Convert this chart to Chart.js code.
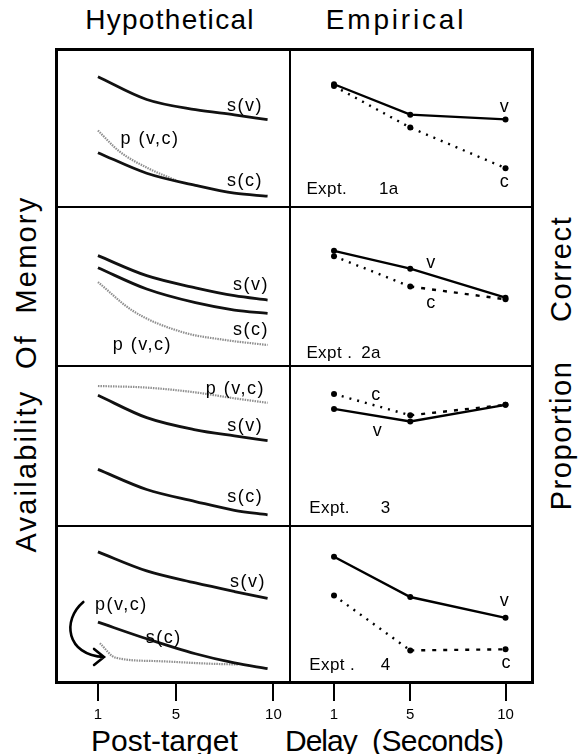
<!DOCTYPE html>
<html>
<head>
<meta charset="utf-8">
<script src="https://cdn.jsdelivr.net/npm/chart.js@4.4.1/dist/chart.umd.min.js"></script>
<style>
  html, body { margin: 0; padding: 0; background: #fff; }
  #fig { position: relative; width: 583px; height: 754px; overflow: hidden;
         font-family: "Liberation Sans", Arial, Helvetica, sans-serif; color: #000; }
  .cell { position: absolute; }
  .txt { position: absolute; white-space: pre; line-height: 1; }
  .rule { position: absolute; background: #000; }
</style>
</head>
<body>
<div id="fig">
  <div class="txt" style="left:170px;top:20px;font-size:28px;letter-spacing:1.3px;transform:translate(-50%,-50%)">Hypothetical</div>
  <div class="txt" style="left:396px;top:20px;font-size:28px;letter-spacing:2.8px;transform:translate(-50%,-50%)">Empirical</div>
  <div class="txt" style="left:26px;top:374px;font-size:29px;letter-spacing:2.2px;transform:translate(-50%,-50%) rotate(-90deg)">Availability  Of  Memory</div>
  <div class="txt" style="left:561px;top:363px;font-size:29px;letter-spacing:1.6px;transform:translate(-50%,-50%) rotate(-90deg)">Proportion    Correct</div>
  <div class="txt" style="left:91px;top:726px;font-size:30px;">Post-target</div>
  <div class="txt" style="left:285px;top:726px;font-size:30px;letter-spacing:-1px;">Delay</div>
  <div class="txt" style="left:372px;top:726px;font-size:30px;letter-spacing:-0.6px;">(Seconds)</div>

  <div class="cell" style="left:57px;top:50px"><canvas id="h1" width="233" height="157"></canvas></div>
  <div class="cell" style="left:57px;top:207px"><canvas id="h2" width="233" height="159"></canvas></div>
  <div class="cell" style="left:57px;top:366px"><canvas id="h3" width="233" height="160"></canvas></div>
  <div class="cell" style="left:57px;top:526px"><canvas id="h4" width="233" height="206"></canvas></div>
  <div class="cell" style="left:290px;top:50px"><canvas id="e1" width="242" height="157"></canvas></div>
  <div class="cell" style="left:290px;top:207px"><canvas id="e2" width="242" height="159"></canvas></div>
  <div class="cell" style="left:290px;top:366px"><canvas id="e3" width="242" height="160"></canvas></div>
  <div class="cell" style="left:290px;top:526px"><canvas id="e4" width="242" height="206"></canvas></div>

  <!-- frame -->
  <div class="rule" style="left:55px;top:48px;width:479px;height:3px"></div>
  <div class="rule" style="left:55px;top:681px;width:479px;height:3px"></div>
  <div class="rule" style="left:55px;top:48px;width:3px;height:636px"></div>
  <div class="rule" style="left:531px;top:48px;width:3px;height:636px"></div>
  <div class="rule" style="left:289px;top:48px;width:2px;height:636px"></div>
  <div class="rule" style="left:55px;top:206px;width:479px;height:2px"></div>
  <div class="rule" style="left:55px;top:365px;width:479px;height:2px"></div>
  <div class="rule" style="left:55px;top:525px;width:479px;height:2px"></div>
</div>

<script>
const curveX = [1, 3.5, 6, 8, 9.7];
// delays tested in the experiments
const delays = [1, 5, 10];
const tickVals = [1, 5, 10];

// hypothetical availability, rows 1-4 (0 = panel floor, 100 = panel top)
const h1sv = [83, 68.5, 62, 58.7, 55.6];
const h1sc = [34.6, 21.5, 13.8, 8.8, 6.9];
const h1pX = [1, 2.1, 3.6, 5];
const h1p = [48.7, 35.4, 24.5, 17];

const h2sv = [69.4, 56.8, 49.2, 44.2, 41.5];
const h2sc = [61.8, 48.4, 39.8, 35.2, 33.1];
const h2pX = [1, 2.8, 5.3, 7.5, 9.7];
const h2p = [52.8, 34.6, 21.4, 16.4, 13.2];

const h3sv = [81.7, 67.7, 60.1, 56.3, 53.4];
const h3sc = [35.4, 22.8, 15.3, 9.8, 7];
const h3pX = [1, 3.5, 6, 8, 9.7];
const h3p = [87.5, 86.5, 83.5, 79.8, 77];

const h4sv = [83.4, 71.2, 63.5, 58, 53.6];
const h4sc = [38.4, 27.7, 18.1, 12.2, 8.6];
const h4pX = [1.1, 1.9, 4, 6.6, 8.2];
const h4p = [24.8, 15.6, 13.4, 11.8, 11.2];

// empirical proportion correct (v = verbal, c = conceptual)
const e1v = [79.7, 59.3, 56.1];
const e1c = [78.5, 50.6, 23.4];
const e2v = [73.6, 61.8, 42.6];
const e2c = [70.1, 50.0, 41.5];
const e3v = [74.4, 66.1, 77.1];
const e3c = [84.2, 70.2, 77.1];
const e4v = [82.4, 55.9, 42.2];
const e4c = [56.9, 20.8, 21.5];

const FONT = '"Liberation Sans", Arial, Helvetica, sans-serif';

const pts = (xs, ys) => xs.map((x, i) => ({ x: x, y: ys[i] }));

const curve = (xs, ys) => ({
  data: pts(xs, ys),
  borderColor: "#111",
  borderWidth: 2.8,
  pointRadius: 0,
  cubicInterpolationMode: "monotone",
  fill: false,
});

const grayCurve = (xs, ys) => ({
  data: pts(xs, ys),
  borderColor: "#8f8f8f",
  borderWidth: 2.2,
  borderDash: [1.5, 1],
  pointRadius: 0,
  cubicInterpolationMode: "monotone",
  fill: false,
});

// style: 0 solid, 1 dotted, 2 dotted then dashed after the 5 s point
const empLine = (ys, style) => ({
  data: pts(delays, ys),
  borderColor: "#000",
  borderWidth: 2.4,
  borderDash: style ? [2, 6] : [],
  segment: style === 2
    ? { borderDash: (c) => (c.p0DataIndex === 1 ? [4, 7] : undefined) }
    : {},
  pointRadius: 3,
  pointBackgroundColor: "#000",
  pointBorderWidth: 0,
  tension: 0,
  fill: false,
});

// text labels drawn at data positions: [text, x, y, align, size, spacing]
function labelPlugin(items, arrow) {
  return {
    id: "labels",
    afterDatasetsDraw(chart) {
      const { ctx, scales } = chart;
      const X = (v) => scales.x.getPixelForValue(v);
      const Y = (v) => scales.y.getPixelForValue(v);
      ctx.save();
      ctx.fillStyle = "#000";
      ctx.textBaseline = "middle";
      items.forEach((it) => {
        ctx.font = (it[4] || 18) + "px " + FONT;
        ctx.textAlign = it[3] || "center";
        ctx.letterSpacing = (it[5] === undefined ? 1.5 : it[5]) + "px";
        ctx.fillText(it[0], X(it[1]), Y(it[2]));
      });
      if (arrow) {
        ctx.strokeStyle = "#000";
        ctx.lineWidth = 2.6;
        ctx.lineCap = "round";
        ctx.beginPath();
        ctx.moveTo(X(arrow[0][0]), Y(arrow[0][1]));
        ctx.bezierCurveTo(
          X(arrow[1][0]), Y(arrow[1][1]),
          X(arrow[2][0]), Y(arrow[2][1]),
          X(arrow[3][0]), Y(arrow[3][1])
        );
        ctx.moveTo(X(arrow[4][0]), Y(arrow[4][1]));
        ctx.lineTo(X(arrow[3][0]), Y(arrow[3][1]));
        ctx.lineTo(X(arrow[5][0]), Y(arrow[5][1]));
        ctx.stroke();
      }
      ctx.restore();
    },
  };
}

function panel(id, xMax, datasets, items, bottom, arrow) {
  const xScale = {
    type: "linear",
    min: -1.1,
    max: xMax,
    display: !!bottom,
    border: { display: false },
    grid: {
      drawOnChartArea: false,
      drawTicks: true,
      tickLength: 19,
      color: "#000",
      lineWidth: 2,
    },
    ticks: {
      color: "#000",
      font: { size: 15, family: FONT },
      padding: 5,
      autoSkip: false,
      maxRotation: 0,
    },
    afterBuildTicks: (s) => {
      s.ticks = tickVals.map((v) => ({ value: v }));
    },
  };
  // only the bottom row carries the delay axis
  if (bottom) xScale.afterFit = (s) => { s.height = 50; };

  new Chart(document.getElementById(id), {
    type: "line",
    data: { datasets: datasets },
    options: {
      responsive: false,
      animation: false,
      events: [],
      layout: { padding: 0 },
      plugins: { legend: { display: false }, tooltip: { enabled: false } },
      scales: {
        x: xScale,
        y: { min: 0, max: 100, display: false },
      },
    },
    plugins: [labelPlugin(items, arrow)],
  });
}

const LX = 10.85; // right end of hypothetical panels
const RX = 11.18; // right end of empirical panels

// ── Hypothetical ──
panel("h1", LX, [curve(curveX, h1sv), curve(curveX, h1sc), grayCurve(h1pX, h1p)],
  [["s(v)", 8.54, 64.6], ["p (v,c)", 3.67, 43], ["s(c)", 8.54, 16.5]]);
panel("h2", LX, [curve(curveX, h2sv), curve(curveX, h2sc), grayCurve(h2pX, h2p)],
  [["s(v)", 8.85, 51], ["s(c)", 8.85, 22.6], ["p (v,c)", 3.28, 13.5]]);
panel("h3", LX, [curve(curveX, h3sv), curve(curveX, h3sc), grayCurve(h3pX, h3p)],
  [["p (v,c)", 8.05, 85.6], ["s(v)", 8.56, 62.5], ["s(c)", 8.56, 18.1]]);
panel("h4", LX, [curve(curveX, h4sv), curve(curveX, h4sc), grayCurve(h4pX, h4p)],
  [["s(v)", 8.7, 64], ["p(v,c)", 2.2, 49.5], ["s(c)", 4.38, 28]],
  true,
  [[0.25, 51.3], [-0.85, 39.7], [-0.64, 17.3], [1.31, 16.0], [0.8, 21.2], [0.8, 10.9]]);

// ── Empirical ──
panel("e1", RX, [empLine(e1v, 0), empLine(e1c, 1)],
  [["v", 9.93, 64.6, "center", 18, 0], ["c", 9.93, 14, "center", 18, 0],
   ["Expt.", -0.45, 9, "left", 17, 0.4], ["1a", 3.36, 9, "left", 17, 0.4]]);
panel("e2", RX, [empLine(e2v, 0), empLine(e2c, 2)],
  [["v", 6.07, 65.6, "center", 18, 0], ["c", 6.07, 39, "center", 18, 0],
   ["Expt .", -0.45, 6, "left", 17, 0.4], ["2a", 2.43, 6, "left", 17, 0.4]]);
panel("e3", RX, [empLine(e3v, 0), empLine(e3c, 2)],
  [["c", 3.19, 83.7, "center", 18, 0], ["v", 3.27, 60, "center", 18, 0],
   ["Expt.", -0.3, 9, "left", 17, 0.4], ["3", 3.45, 9, "left", 17, 0.4]]);
panel("e4", RX, [empLine(e4v, 0), empLine(e4c, 2)],
  [["v", 9.93, 53, "center", 18, 0], ["c", 10.03, 12.7, "center", 18, 0],
   ["Expt .", -0.3, 11, "left", 17, 0.4], ["4", 3.45, 11, "left", 17, 0.4]],
  true);
</script>
</body>
</html>
